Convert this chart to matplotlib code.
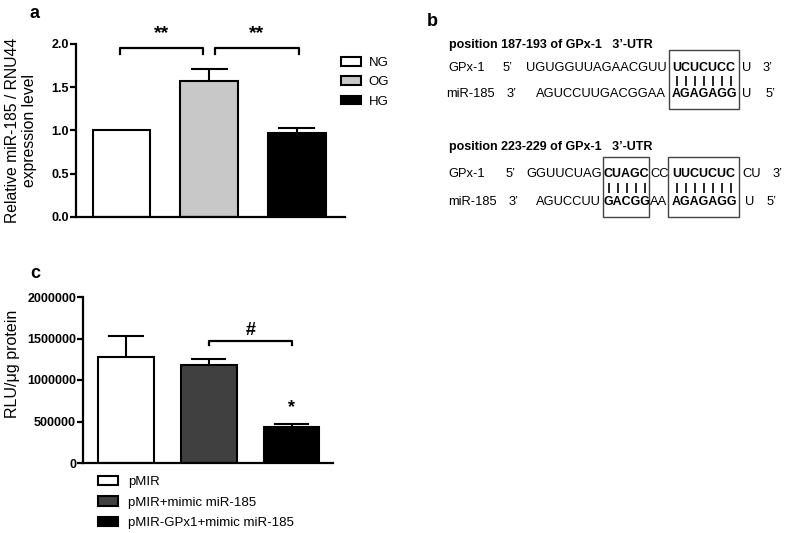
import numpy as np
import matplotlib.pyplot as plt
from matplotlib.patches import Patch, Rectangle

plt.rcParams['font.family'] = ['Liberation Sans', 'DejaVu Sans']

# panel a data
a_groups = ["NG", "OG", "HG"]
a_values = [1.0, 1.57, 0.97]
a_err = [0.0, 0.14, 0.06]
a_colors = ["white", "#c8c8c8", "black"]
a_ticks = [0.0, 0.5, 1.0, 1.5, 2.0]

# panel c data
c_groups = ["pMIR", "pMIR+mimic miR-185", "pMIR-GPx1+mimic miR-185"]
c_values = [1280000, 1180000, 434000]
c_err = [250000, 70000, 36000]
c_colors = ["white", "#404040", "black"]
c_ticks = [0, 500000, 1000000, 1500000, 2000000]

# panel b sequences
site1_title = "position 187-193 of GPx-1   3\u2019-UTR"
site2_title = "position 223-229 of GPx-1   3\u2019-UTR"

W, H = 785, 533
fig = plt.figure(figsize=(7.85, 5.33), dpi=100)


def px_axes(left, top, right, bottom):
    return fig.add_axes([left / W, 1 - bottom / H, (right - left) / W, (bottom - top) / H])


def style(ax):
    for s in ["top", "right"]:
        ax.spines[s].set_visible(False)
    for s in ["left", "bottom"]:
        ax.spines[s].set_linewidth(1.6)
    ax.tick_params(axis="y", length=4, width=1.6, labelsize=9, pad=1)
    ax.tick_params(axis="x", length=0, labelbottom=False)
    for lab in ax.get_yticklabels():
        lab.set_fontweight("bold")


# ---- panel a
ax1 = px_axes(76, 44, 345, 217)
x = np.arange(len(a_groups))
ax1.bar(x, a_values, width=0.66, color=a_colors, edgecolor="black", linewidth=1.5,
        yerr=[np.zeros(3), a_err], capsize=0,
        error_kw=dict(elinewidth=1.5, ecolor="black"))
# upper caps
for xi, v, e in zip(x, a_values, a_err):
    if e > 0:
        ax1.plot([xi - 0.2, xi + 0.2], [v + e, v + e], color="black", lw=1.5)
ax1.set_xlim(-0.52, 2.55)
ax1.set_ylim(0, 2.0)
ax1.set_yticks(a_ticks)
ax1.set_yticklabels([f"{t:.1f}" for t in a_ticks])
style(ax1)
ax1.set_ylabel("Relative miR-185 / RNU44\nexpression level", fontsize=11.3, linespacing=1.15)
ax1.yaxis.set_label_coords(-0.145, 0.5)
for x0, x1 in [(-0.02, 0.93), (1.07, 2.02)]:
    ax1.plot([x0, x0, x1, x1], [1.88, 1.95, 1.95, 1.88], color="black", lw=1.6, clip_on=False)
    ax1.text((x0 + x1) / 2, 2.02, "**", ha="center", va="bottom", fontsize=14, fontweight="bold")
ax1.legend([Patch(facecolor=c, edgecolor="black", linewidth=1.5) for c in a_colors], a_groups,
           loc="upper left", bbox_to_anchor=(341 / W, 1 - 57 / H), bbox_transform=fig.transFigure,
           frameon=False, fontsize=9.5, handlelength=1.55, handleheight=0.6,
           handletextpad=0.55, labelspacing=0.55, borderpad=0, borderaxespad=0)
fig.text(35 / W, 1 - 14 / H, "a", fontsize=13, fontweight="bold", ha="center", va="center")

# ---- panel c
ax2 = px_axes(83, 297, 333, 463)
ax2.bar(x, c_values, width=0.67, color=c_colors, edgecolor="black", linewidth=1.5,
        yerr=[np.zeros(3), c_err], capsize=0,
        error_kw=dict(elinewidth=1.5, ecolor="black"))
for xi, v, e in zip(x, c_values, c_err):
    ax2.plot([xi - 0.2, xi + 0.2], [v + e, v + e], color="black", lw=1.5)
ax2.set_xlim(-0.52, 2.5)
ax2.set_ylim(0, 2000000)
ax2.set_yticks(c_ticks)
ax2.set_yticklabels([str(t) for t in c_ticks])
style(ax2)
ax2.set_ylabel("RLU/\u03bcg protein", fontsize=11.5)
ax2.yaxis.set_label_coords(-0.25, 0.6)
ax2.plot([1.0, 1.0, 2.0, 2.0], [1420000, 1465000, 1465000, 1420000], color="black", lw=1.6)
ax2.text(1.5, 1490000, "#", ha="center", va="bottom", fontsize=13, fontweight="bold")
ax2.text(2.0, 560000, "*", ha="center", va="bottom", fontsize=13, fontweight="bold")
ax2.legend([Patch(facecolor=c, edgecolor="black", linewidth=1.5) for c in c_colors], c_groups,
           loc="upper left", bbox_to_anchor=(98 / W, 1 - 476 / H), bbox_transform=fig.transFigure,
           frameon=False, fontsize=9.5, handlelength=1.55, handleheight=0.7,
           handletextpad=0.75, labelspacing=0.62, borderpad=0, borderaxespad=0)
fig.text(35 / W, 1 - 273 / H, "c", fontsize=13, fontweight="bold", ha="center", va="center")

# ---- panel b (text overlay in pixel coords)
ov = fig.add_axes([0, 0, 1, 1], zorder=-1)
ov.set_xlim(0, W)
ov.set_ylim(H, 0)
ov.axis("off")
fs = 9.3


def seq(xp, yp, s, bold=False):
    ov.text(xp, yp, s, fontsize=9.0 if bold else fs, fontweight="bold" if bold else "normal",
            ha="left", va="center")


def pairs(x0, n, yp):
    xs = x0 + 4.5 + 9.0 * np.arange(n)
    ov.vlines(xs, yp - 5, yp + 5, color="black", lw=1.2)


ov.text(432, 22, "b", fontsize=13, fontweight="bold", ha="center", va="center")

# site 1
ov.text(449, 45, site1_title, fontsize=9, fontweight="bold", va="center")
y1, y2 = 68, 94
seq(448, y1, "GPx-1"); seq(503, y1, "5\u2019"); seq(526, y1, "UGUGGUUAGAACGUU")
seq(672, y1, "UCUCUCC", True); seq(742, y1, "U"); seq(763, y1, "3\u2019")
seq(446, y2, "miR-185"); seq(507, y2, "3\u2019"); seq(536, y2, "AGUCCUUGACGGAA")
seq(672, y2, "AGAGAGG", True); seq(742, y2, "U"); seq(766, y2, "5\u2019")
pairs(672, 7, 81)
ov.add_patch(Rectangle((669, 50), 70, 59, fill=False, lw=1.0, ec="#444444"))

# site 2
ov.text(449, 147, site2_title, fontsize=9, fontweight="bold", va="center")
y1, y2 = 174, 202
seq(448, y1, "GPx-1"); seq(506, y1, "5\u2019"); seq(526, y1, "GGUUCUAG")
seq(604, y1, "CUAGC", True); seq(650, y1, "CC"); seq(672, y1, "UUCUCUC", True)
seq(742, y1, "CU"); seq(773, y1, "3\u2019")
seq(448, y2, "miR-185"); seq(509, y2, "3\u2019"); seq(536, y2, "AGUCCUU")
seq(604, y2, "GACGG", True); seq(650, y2, "AA"); seq(672, y2, "AGAGAGG", True)
seq(745, y2, "U"); seq(767, y2, "5\u2019")
pairs(604, 5, 188)
pairs(672, 7, 188)
ov.add_patch(Rectangle((603, 157), 46, 60, fill=False, lw=1.0, ec="#444444"))
ov.add_patch(Rectangle((668, 157), 71, 60, fill=False, lw=1.0, ec="#444444"))

fig.savefig("out.png", dpi=100)
